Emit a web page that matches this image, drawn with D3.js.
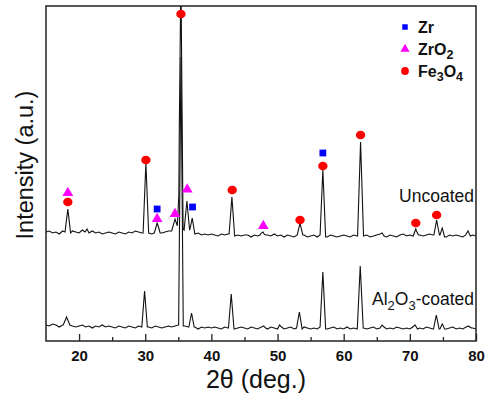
<!DOCTYPE html>
<html>
<head>
<meta charset="utf-8">
<script src="https://cdn.jsdelivr.net/npm/d3@7"></script>
<style>
  body { margin: 0; background: #fff; }
  svg { display: block; font-family: Arial, "Liberation Sans", sans-serif; }
  .xtick text { font-weight: 700; font-size: 15px; font-family: Arial, "Liberation Sans", sans-serif; fill: #111; }
</style>
</head>
<body>
<div id="chart"></div>
<script>
// baseline intensity read every 0.5 deg, 15.0 .. 80.0 (131 values)
const gridStart = 15, gridStep = 0.5;
const baseUncoated = [
  109,110,108,109,107,110,109,108,110,109,108,
  111,109,108,110,108,109,107,108,109,108,
  107,109,108,107,109,108,110,109,108,109,
  108,107,108,109,108,109,110,110,111,112,
  112,111,110,108,107,108,106,107,106,107,
  106,105,107,106,107,106,105,106,105,106,
  106,104,106,105,106,104,106,105,107,105,
  106,104,106,105,104,106,105,106,104,105,
  106,104,106,105,104,106,105,104,105,106,
  105,104,106,105,104,105,106,104,105,106,
  107,105,104,106,105,104,106,107,105,106,
  105,104,106,105,106,107,106,105,106,105,
  104,106,105,106,105,104,106,105,106,105
];
const baseCoated = [
  16,15,17,16,14,16,15,16,15,14,15,
  16,14,15,13,15,14,16,14,15,14,
  13,15,14,13,15,14,13,15,14,15,
  14,13,15,14,13,14,15,14,15,16,
  16,15,14,13,14,12,14,13,14,13,
  14,13,12,14,13,14,12,13,14,13,
  12,14,13,12,14,13,12,14,13,12,
  14,12,13,14,12,13,12,14,13,12,
  13,12,14,13,12,13,14,12,13,12,
  14,12,13,12,14,13,12,13,14,12,
  13,14,12,13,12,14,13,12,13,12,
  14,12,13,12,14,13,12,13,12,13,
  12,13,14,12,13,12,14,12,13,12
];

// peaks: position (2θ), height above baseline, half width at foot
const peakPosUncoated = [18.3, 21.2, 30.1, 31.8, 34.5, 35.15, 35.4, 36.3, 37.1, 43.1, 47.8, 53.4, 56.85, 62.55, 65.8, 70.9, 74.05, 74.9, 78.8];
const peakHUncoated   = [24, 3, 69, 9, 11, 45, 250, 30, 15, 38, 5, 13, 66, 95, 3, 8, 16, 8, 5];
const peakWUncoated   = [0.42, 0.3, 0.42, 0.45, 0.5, 0.3, 0.32, 0.42, 0.4, 0.42, 0.45, 0.42, 0.42, 0.45, 0.3, 0.4, 0.42, 0.35, 0.35];

const peakPosCoated = [18.1, 29.9, 35.4, 37.0, 43.0, 47.9, 50.3, 53.3, 56.85, 62.5, 65.8, 70.8, 74.0, 74.9, 78.9];
const peakHCoated   = [9, 35, 268, 15, 33, 2, 2, 17, 56, 61, 2, 4, 13, 4, 3];
const peakWCoated   = [0.5, 0.42, 0.35, 0.4, 0.42, 0.3, 0.3, 0.42, 0.42, 0.45, 0.3, 0.35, 0.42, 0.35, 0.4];

// phase markers on the uncoated pattern: 2θ and intensity level
const fe3o4X = [18.3, 30.1, 35.4, 43.15, 53.4, 56.85, 62.55, 70.9, 74.05];
const fe3o4Y = [139, 181, 327, 151, 121, 175, 206, 118, 126];
const zro2X = [18.3, 31.8, 34.5, 36.35, 47.85];
const zro2Y = [148, 122, 127, 151.5, 115];
const zrX = [31.8, 37.15, 56.85];
const zrY = [132, 134, 188];

const xMajorTicks = [20, 30, 40, 50, 60, 70, 80];
const xMinorTicks = [25, 35, 45, 55, 65, 75];

const W = 488, H = 396;
const margin = { left: 46, right: 12, top: 6, bottom: 55 };
const iw = W - margin.left - margin.right;
const ih = H - margin.top - margin.bottom;

const svg = d3.select("#chart").append("svg")
  .attr("width", W).attr("height", H);

const x = d3.scaleLinear().domain([15, 80]).range([0, iw]);
const y = d3.scaleLinear().domain([0, 335]).range([ih, 0]);

const g = svg.append("g").attr("transform", `translate(${margin.left},${margin.top})`);

svg.append("defs").append("clipPath").attr("id", "plotclip")
  .append("rect").attr("width", iw).attr("height", ih);

// build trace vertices from baseline grid + peak feet/apex
function buildTrace(base, pos, hts, wds) {
  const xs = base.map((_, i) => gridStart + i * gridStep);
  pos.forEach((p, k) => { xs.push(p - wds[k], p, p + wds[k]); });
  xs.sort((a, b) => a - b);
  return xs.map(v => {
    const idx = Math.min(base.length - 1, Math.max(0, Math.round((v - gridStart) / gridStep)));
    let val = base[idx];
    pos.forEach((p, k) => {
      const d = Math.abs(v - p);
      if (d < wds[k]) val += hts[k] * (1 - d / wds[k]);
    });
    return [v, val];
  });
}

const line = d3.line().x(d => x(d[0])).y(d => y(d[1]));

const traces = g.append("g").attr("clip-path", "url(#plotclip)");
traces.append("path")
  .datum(buildTrace(baseCoated, peakPosCoated, peakHCoated, peakWCoated))
  .attr("d", line).attr("fill", "none").attr("stroke", "#111").attr("stroke-width", 1.1);
traces.append("path")
  .datum(buildTrace(baseUncoated, peakPosUncoated, peakHUncoated, peakWUncoated))
  .attr("d", line).attr("fill", "none").attr("stroke", "#111").attr("stroke-width", 1.1);

// markers
const tri = d3.symbol().type(d3.symbolTriangle).size(50);
const sq = d3.symbol().type(d3.symbolSquare).size(46);

g.selectAll(".fe").data(fe3o4X).join("ellipse")
  .attr("class", "fe")
  .attr("cx", d => x(d)).attr("cy", (d, i) => y(fe3o4Y[i]))
  .attr("rx", 4.7).attr("ry", 4.3).attr("fill", "#ff0000");
g.selectAll(".zro2").data(zro2X).join("path")
  .attr("class", "zro2")
  .attr("transform", (d, i) => `translate(${x(d)},${y(zro2Y[i])})`)
  .attr("d", tri).attr("fill", "#ff00ff");
g.selectAll(".zr").data(zrX).join("path")
  .attr("class", "zr")
  .attr("transform", (d, i) => `translate(${x(d)},${y(zrY[i])})`)
  .attr("d", sq).attr("fill", "#0000ff");

// axes: ticks point inward
const xAxis = g.append("g").attr("class", "xtick").attr("transform", `translate(0,${ih})`)
  .call(d3.axisBottom(x).tickValues(xMajorTicks).tickSizeInner(-7).tickSizeOuter(0).tickPadding(9));
xAxis.select(".domain").remove();
xAxis.selectAll("line").attr("stroke", "#222").attr("stroke-width", 1.3);

const xMinor = g.append("g").attr("transform", `translate(0,${ih})`)
  .call(d3.axisBottom(x).tickValues(xMinorTicks).tickSizeInner(-4).tickSizeOuter(0).tickFormat(""));
xMinor.select(".domain").remove();
xMinor.selectAll("line").attr("stroke", "#222").attr("stroke-width", 1.3);

// frame
g.append("rect").attr("width", iw).attr("height", ih)
  .attr("fill", "none").attr("stroke", "#222").attr("stroke-width", 1.5);

// axis titles
svg.append("text")
  .attr("x", 256).attr("y", 388)
  .attr("text-anchor", "middle").attr("font-size", 25).attr("fill", "#111")
  .text("2θ (deg.)");
svg.append("text")
  .attr("transform", `translate(33,165) rotate(-90)`)
  .attr("text-anchor", "middle").attr("font-size", 23.5).attr("fill", "#111")
  .text("Intensity (a.u.)");

// trace labels
svg.append("text")
  .attr("x", 474).attr("y", 202)
  .attr("text-anchor", "end").attr("font-size", 17.5).attr("fill", "#111")
  .text("Uncoated");
const coatedLabel = svg.append("text")
  .attr("x", 474).attr("y", 305)
  .attr("text-anchor", "end").attr("font-size", 17.5).attr("fill", "#111");
coatedLabel.append("tspan").text("Al");
coatedLabel.append("tspan").attr("dy", 5).attr("font-size", 13).text("2");
coatedLabel.append("tspan").attr("dy", -5).text("O");
coatedLabel.append("tspan").attr("dy", 5).attr("font-size", 13).text("3");
coatedLabel.append("tspan").attr("dy", -5).text("-coated");

// legend
const legendNames = [["Zr"], ["ZrO", "2"], ["Fe", "3", "O", "4"]];
const legendY = [27, 49, 71];
const legend = svg.append("g").attr("transform", "translate(405,0)");
legend.append("path").attr("transform", `translate(0,${legendY[0]})`)
  .attr("d", d3.symbol().type(d3.symbolSquare).size(30)).attr("fill", "#0000ff");
legend.append("path").attr("transform", `translate(0,${legendY[1]})`)
  .attr("d", d3.symbol().type(d3.symbolTriangle).size(36)).attr("fill", "#ff00ff");
legend.append("circle").attr("cy", legendY[2]).attr("r", 3.9).attr("fill", "#ff0000");
legendNames.forEach((parts, i) => {
  const t = legend.append("text").attr("x", 13).attr("y", legendY[i] + 5.5)
    .attr("font-size", 16).attr("font-weight", "bold").attr("fill", "#111");
  parts.forEach((p, j) => {
    const sub = j % 2 === 1;
    t.append("tspan").attr("dy", j === 0 ? 0 : (sub ? 4 : -4))
      .attr("font-size", sub ? 12.5 : 16).text(p);
  });
});
</script>
</body>
</html>
